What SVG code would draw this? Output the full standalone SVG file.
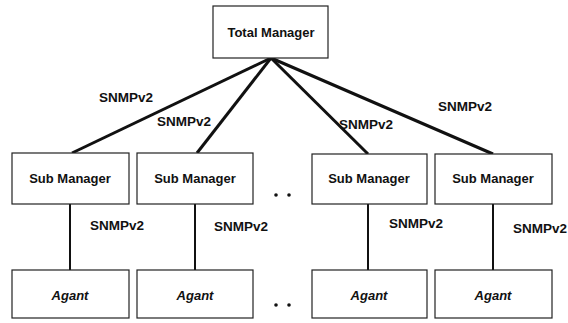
<svg xmlns="http://www.w3.org/2000/svg" width="568" height="323" viewBox="0 0 568 323">
<style>
.box{fill:#fff;stroke:#222;stroke-width:1.2}
.t{font-family:"Liberation Sans",Arial,sans-serif;font-weight:bold;font-size:13px;fill:#111;text-anchor:middle}
.a{font-style:italic}
.lbl{font-family:"Liberation Sans",Arial,sans-serif;font-weight:bold;font-size:13.5px;fill:#111;text-anchor:middle}
.up{stroke:#111;stroke-width:3;fill:none}
.dn{stroke:#111;stroke-width:2;fill:none}
</style>
<rect width="568" height="323" fill="#fff"/>
<g id="connectors">
<line class="up" x1="271" y1="58" x2="72" y2="153"/>
<line class="up" x1="271" y1="58" x2="197" y2="153"/>
<line class="up" x1="271" y1="58" x2="368" y2="154"/>
<line class="up" x1="271" y1="58" x2="493" y2="154"/>
<line class="dn" x1="70" y1="204" x2="70" y2="270"/>
<line class="dn" x1="195" y1="204" x2="195" y2="270"/>
<line class="dn" x1="368" y1="204" x2="368" y2="270"/>
<line class="dn" x1="493" y1="204" x2="493" y2="270"/>
<text class="lbl" x="126" y="102">SNMPv2</text>
<text class="lbl" x="184" y="126">SNMPv2</text>
<text class="lbl" x="366" y="129">SNMPv2</text>
<text class="lbl" x="465" y="111">SNMPv2</text>
<text class="lbl" x="117" y="230">SNMPv2</text>
<text class="lbl" x="241" y="231">SNMPv2</text>
<text class="lbl" x="416" y="228">SNMPv2</text>
<text class="lbl" x="540" y="233">SNMPv2</text>
</g>
<g id="total-manager">
<rect class="box" x="213" y="6" width="115" height="52"/>
<text class="t" x="271" y="37">Total Manager</text>
</g>
<g id="sub-manager-1">
<rect class="box" x="12" y="153" width="117" height="51"/>
<text class="t" x="70" y="183">Sub Manager</text>
</g>
<g id="sub-manager-2">
<rect class="box" x="137" y="153" width="116" height="51"/>
<text class="t" x="195" y="183">Sub Manager</text>
</g>
<g id="sub-manager-3">
<rect class="box" x="312" y="154" width="115" height="50"/>
<text class="t" x="369" y="183">Sub Manager</text>
</g>
<g id="sub-manager-4">
<rect class="box" x="435" y="154" width="117" height="50"/>
<text class="t" x="493" y="183">Sub Manager</text>
</g>
<g id="agent-1">
<rect class="box" x="12" y="270" width="117" height="48"/>
<text class="t a" x="70" y="300">Agant</text>
</g>
<g id="agent-2">
<rect class="box" x="137" y="270" width="116" height="48"/>
<text class="t a" x="195" y="300">Agant</text>
</g>
<g id="agent-3">
<rect class="box" x="312" y="270" width="115" height="48"/>
<text class="t a" x="369" y="300">Agant</text>
</g>
<g id="agent-4">
<rect class="box" x="435" y="270" width="117" height="48"/>
<text class="t a" x="493" y="300">Agant</text>
</g>
<g id="ellipsis" fill="#111">
<circle cx="276" cy="195" r="1.8"/>
<circle cx="289" cy="195" r="1.8"/>
<circle cx="276" cy="305" r="1.8"/>
<circle cx="289" cy="305" r="1.8"/>
</g>
</svg>
